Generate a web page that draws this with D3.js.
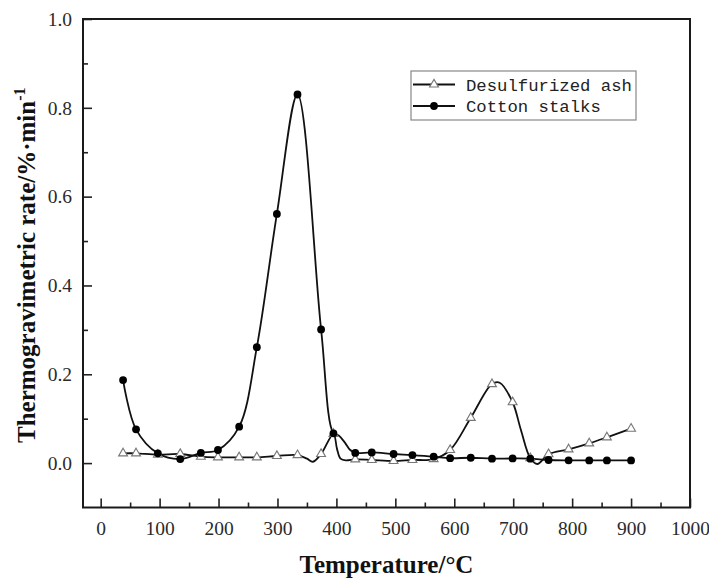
<!DOCTYPE html>
<html>
<head>
<meta charset="utf-8">
<script src="https://cdn.jsdelivr.net/npm/d3@7"></script>
<style>
  html, body { margin: 0; padding: 0; background: #fff; }
  svg { display: block; }
</style>
</head>
<body>
<svg id="chart" width="709" height="579"></svg>
<script>
// Sampling temperatures (°C) shared by both DTG curves
const temps = [38, 60, 97, 135, 170, 199, 235, 265, 299, 334, 374, 395, 432, 460, 497, 529, 565, 593, 628, 664, 699, 729, 760, 794, 829, 859, 900];

// Thermogravimetric rate (%/min) at the sampled temperatures
const cottonRate = [0.187, 0.076, 0.022, 0.009, 0.023, 0.0295, 0.082, 0.261, 0.561, 0.830, 0.301, 0.067, 0.023, 0.024, 0.0205, 0.018, 0.0145, 0.011, 0.012, 0.010, 0.0104, 0.010, 0.007, 0.0062, 0.006, 0.006, 0.006];
const ashRate = [0.022, 0.022, 0.019, 0.0205, 0.0145, 0.013, 0.013, 0.013, 0.016, 0.018, 0.0205, 0.066, 0.0085, 0.007, 0.0047, 0.007, 0.009, 0.0295, 0.102, 0.178, 0.137, 0.011, 0.020, 0.031, 0.0445, 0.058, 0.0775];

// Extra readings between markers, where the recorded curve has features
const cottonExtraT = [404, 415, 423];
const cottonExtraRate = [0.062, 0.045, 0.030];
const ashExtraT = [350, 360, 401, 407, 416, 677, 713, 741];
const ashExtraRate = [0.010, 0.003, 0.032, 0.010, 0.006, 0.181, 0.075, -0.002];

// Axis ticks
const xMajor = [0, 100, 200, 300, 400, 500, 600, 700, 800, 900, 1000];
const xMinor = [50, 150, 250, 350, 450, 550, 650, 750, 850, 950];
const yMajor = [0.0, 0.2, 0.4, 0.6, 0.8, 1.0];
const yMinor = [0.1, 0.3, 0.5, 0.7, 0.9];

const seriesNames = ["Desulfurized ash", "Cotton stalks"];

const svg = d3.select("#chart");
const plotLeft = 83, plotRight = 690, plotTop = 19, plotBottom = 507.5;

const x = d3.scaleLinear().domain([-30, 1000]).range([plotLeft, plotRight]);
const y = d3.scaleLinear().domain([-0.1, 1.0]).range([plotBottom, plotTop]);

const serif = "'Liberation Serif', 'Times New Roman', serif";

function points(ts, vs) { return ts.map((t, i) => [t, vs[i]]); }
function curvePoints(ts, vs, ets, evs) {
  return points(ts, vs).concat(points(ets, evs)).sort((a, b) => a[0] - b[0]);
}

// Axes with inward ticks
svg.append("g").attr("transform", `translate(0,${plotBottom})`)
  .call(d3.axisBottom(x).tickValues(xMajor).tickSize(-9).tickPadding(14).tickFormat(d3.format("d")));
svg.append("g").attr("transform", `translate(0,${plotBottom})`)
  .call(d3.axisBottom(x).tickValues(xMinor).tickSize(-5).tickFormat(""));
svg.append("g").attr("transform", `translate(${plotLeft},0)`)
  .call(d3.axisLeft(y).tickValues(yMajor).tickSize(-9).tickPadding(11).tickFormat(d3.format(".1f")));
svg.append("g").attr("transform", `translate(${plotLeft},0)`)
  .call(d3.axisLeft(y).tickValues(yMinor).tickSize(-5).tickFormat(""));

svg.selectAll(".domain").remove();
svg.selectAll(".tick line").attr("stroke", "#222").attr("stroke-width", 1.6);
svg.selectAll(".tick text").attr("font-family", serif).attr("font-size", 19.5).attr("fill", "#2a2a2a");

// Plot frame
svg.append("rect")
  .attr("x", plotLeft).attr("y", plotTop)
  .attr("width", plotRight - plotLeft).attr("height", plotBottom - plotTop)
  .attr("fill", "none").attr("stroke", "#1a1a1a").attr("stroke-width", 2);

// Curves
const line = d3.line()
  .x(d => x(d[0])).y(d => y(d[1]))
  .curve(d3.curveCatmullRom.alpha(0.5));

svg.append("path")
  .datum(curvePoints(temps, ashRate, ashExtraT, ashExtraRate))
  .attr("d", line).attr("fill", "none").attr("stroke", "#111").attr("stroke-width", 1.8);
svg.append("path")
  .datum(curvePoints(temps, cottonRate, cottonExtraT, cottonExtraRate))
  .attr("d", line).attr("fill", "none").attr("stroke", "#111").attr("stroke-width", 1.8);

// Markers
const tri = d3.symbol().type(d3.symbolTriangle).size(34);
svg.append("g").selectAll("path")
  .data(points(temps, ashRate)).join("path")
  .attr("d", tri)
  .attr("transform", d => `translate(${x(d[0])},${y(d[1])})`)
  .attr("fill", "#fff").attr("stroke", "#777").attr("stroke-width", 1.1);
svg.append("g").selectAll("circle")
  .data(points(temps, cottonRate)).join("circle")
  .attr("cx", d => x(d[0])).attr("cy", d => y(d[1])).attr("r", 3.9)
  .attr("fill", "#000");

// Legend
const lg = svg.append("g");
lg.append("rect").attr("x", 411).attr("y", 71).attr("width", 225).attr("height", 49)
  .attr("fill", "#fff").attr("stroke", "#888").attr("stroke-width", 1.2);
const rows = [84.5, 106];
seriesNames.forEach((name, i) => {
  const ry = rows[i];
  lg.append("line").attr("x1", 413).attr("x2", 455).attr("y1", ry).attr("y2", ry)
    .attr("stroke", "#111").attr("stroke-width", 1.8);
  if (i === 0) {
    lg.append("path").attr("d", tri).attr("transform", `translate(434,${ry})`)
      .attr("fill", "#fff").attr("stroke", "#777").attr("stroke-width", 1.1);
  } else {
    lg.append("circle").attr("cx", 434).attr("cy", ry).attr("r", 3.9).attr("fill", "#000");
  }
  lg.append("text").attr("x", 466).attr("y", ry + 6)
    .attr("font-family", "'Liberation Mono', 'Courier New', monospace")
    .attr("font-size", 17.3).attr("fill", "#222").text(name);
});

// Axis titles
svg.append("text")
  .attr("x", (plotLeft + plotRight) / 2).attr("y", 573)
  .attr("text-anchor", "middle")
  .attr("font-family", serif).attr("font-weight", "bold").attr("font-size", 25)
  .attr("fill", "#111").text("Temperature/°C");

const yt = svg.append("text")
  .attr("transform", `translate(35,${(plotTop + plotBottom) / 2 + 2}) rotate(-90)`)
  .attr("text-anchor", "middle")
  .attr("font-family", serif).attr("font-weight", "bold").attr("font-size", 25)
  .attr("fill", "#111");
yt.append("tspan").text("Thermogravimetric rate/%·min");
yt.append("tspan").attr("font-size", 16).attr("dy", -10).text("-1");
</script>
</body>
</html>
